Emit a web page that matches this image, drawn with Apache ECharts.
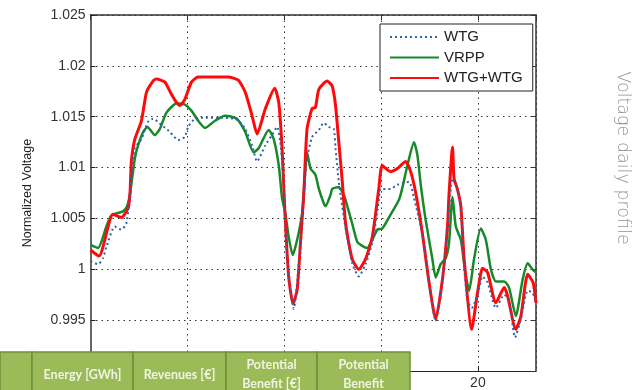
<!DOCTYPE html>
<html>
<head>
<meta charset="utf-8">
<script src="https://cdn.jsdelivr.net/npm/echarts@6/dist/echarts.min.js"></script>
<style>
html,body{margin:0;padding:0;background:#fff;}
#c{width:634px;height:390px;}
</style>
</head>
<body>
<div id="c"></div>
<script>
// ---- data (hour of day, normalized voltage) ----
const wtgHours = [0,0.39,0.65,0.82,1.25,1.59,1.85,2.03,2.11,2.29,2.63,2.97,3.23,3.66,4.10,4.53,4.87,5.04,5.39,5.91,6.77,7.46,7.65,7.99,8.34,8.60,9.03,9.37,9.63,9.80,9.97,10.06,10.23,10.49,10.84,11.01,11.18,11.44,11.79,12.04,12.30,12.56,12.65,12.82,13.17,13.51,13.85,14.20,14.55,14.89,14.98,15.49,15.84,16.44,16.70,17.13,17.48,17.82,18.17,18.43,18.69,18.94,19.12,19.29,19.46,19.68,19.98,20.24,20.50,20.93,21.36,21.61,21.92,22.22,22.57,22.82,23.0];
const wtgValues = [1.0008,1.0005,1.0011,1.0022,1.0042,1.0039,1.0045,1.0071,1.0093,1.0119,1.0128,1.0145,1.0148,1.0142,1.0135,1.0127,1.0130,1.0140,1.0148,1.0149,1.0149,1.0148,1.0146,1.0138,1.0122,1.0106,1.0122,1.0132,1.0140,1.0125,1.0086,1.0042,0.9993,0.9961,1.0026,1.0074,1.0109,1.0130,1.0137,1.0144,1.0140,1.0138,1.0119,1.0086,1.0040,1.0006,0.9993,1.0005,1.0026,1.0068,1.0079,1.0079,1.0083,1.0086,1.0070,1.0035,0.9986,0.9949,0.9990,1.0040,1.0089,1.0079,1.0060,1.0003,0.9970,0.9962,0.9974,0.9993,0.9987,0.9962,0.9975,0.9970,0.9933,0.9951,0.9979,0.9977,0.9967];

const vrppHours = [0,0.39,0.82,1.08,1.68,1.89,2.03,2.29,2.46,2.72,2.94,3.32,3.58,3.92,4.44,4.87,5.21,5.56,5.91,6.43,6.94,7.46,7.65,7.99,8.42,8.68,9.20,9.46,9.72,9.89,10.06,10.23,10.44,10.67,10.93,11.01,11.18,11.36,11.61,11.79,12.04,12.13,12.39,12.48,12.82,13.08,13.17,13.51,13.77,14.03,14.29,14.55,14.81,15.06,15.44,15.96,16.36,16.70,16.88,17.05,17.30,17.65,17.82,18.08,18.34,18.51,18.69,18.86,19.12,19.38,19.55,19.80,20.15,20.41,20.67,20.93,21.36,21.61,21.96,22.31,22.57,22.82,23.0];
const vrppValues = [1.0024,1.0021,1.0042,1.0053,1.0057,1.0062,1.0073,1.0109,1.0122,1.0135,1.0140,1.0132,1.0138,1.0154,1.0163,1.0162,1.0156,1.0146,1.0139,1.0146,1.0151,1.0149,1.0146,1.0135,1.0115,1.0119,1.0137,1.0128,1.0102,1.0070,1.0055,1.0032,1.0014,1.0029,1.0055,1.0074,1.0115,1.0099,1.0093,1.0079,1.0065,1.0062,1.0073,1.0079,1.0081,1.0073,1.0068,1.0045,1.0027,1.0023,1.0021,1.0029,1.0039,1.0040,1.0052,1.0070,1.0102,1.0125,1.0112,1.0083,1.0049,1.0010,0.9992,1.0005,1.0011,1.0026,1.0071,1.0042,1.0029,0.9993,0.9979,1.0010,1.0040,1.0029,1.0000,0.9988,0.9988,0.9982,0.9954,0.9990,1.0006,1.0000,0.9997];

const bothHours = [0,0.44,1.16,1.59,1.94,2.04,2.11,2.29,2.63,2.89,3.23,3.40,3.84,4.18,4.44,4.61,4.87,5.21,5.56,7.11,7.63,7.99,8.34,8.60,9.03,9.51,9.72,9.89,10.04,10.23,10.46,10.67,10.84,11.01,11.18,11.44,11.61,11.79,12.22,12.48,12.65,12.82,13.00,13.17,13.51,13.85,14.20,14.55,14.89,15.06,15.49,15.84,16.27,16.53,16.78,17.13,17.48,17.82,18.17,18.43,18.51,18.69,18.77,18.94,19.12,19.29,19.68,19.98,20.24,20.50,20.93,21.36,21.53,21.96,22.22,22.57,22.85,23.0];
const bothValues = [1.0019,1.0013,1.0054,1.0051,1.0060,1.0075,1.0106,1.0128,1.0146,1.0174,1.0185,1.0187,1.0184,1.0172,1.0164,1.0161,1.0167,1.0184,1.0189,1.0189,1.0186,1.0174,1.0151,1.0133,1.0158,1.0178,1.0164,1.0119,1.0055,0.9993,0.9966,0.9980,1.0026,1.0074,1.0138,1.0158,1.0159,1.0177,1.0185,1.0180,1.0161,1.0125,1.0086,1.0045,1.0010,1.0000,1.0010,1.0032,1.0080,1.0102,1.0096,1.0099,1.0106,1.0096,1.0076,1.0036,0.9987,0.9951,0.9990,1.0042,1.0074,1.0120,1.0089,1.0079,1.0062,1.0010,0.9941,0.9977,1.0001,0.9997,0.9967,0.9982,0.9974,0.9941,0.9954,0.9995,0.9987,0.9967];

const seriesNames = ['WTG', 'VRPP', 'WTG+WTG'];
const yAxisTitle = 'Normalized Voltage';
const sideTitle = 'Voltage daily profile';
const tableHeaders = [[''], ['Energy [GWh]'], ['Revenues [€]'], ['Potential', 'Benefit [€]'], ['Potential', 'Benefit']];

// ---- chart ----
const pairs = (h, v) => h.map((x, i) => [x, v[i]]);
const chart = echarts.init(document.getElementById('c'), null, {renderer: 'canvas'});

const cellEdges = [0, 32, 133, 226, 317, 410];
const tableTop = 352;
const graphics = [];
for (let i = 0; i < tableHeaders.length; i++) {
  const x0 = cellEdges[i], x1 = cellEdges[i + 1];
  graphics.push({
    type: 'rect', z: 100,
    shape: {x: x0, y: tableTop, width: x1 - x0, height: 45},
    style: {fill: '#9bbb59', stroke: '#728f39', lineWidth: 1.5}
  });
  const lines = tableHeaders[i];
  lines.forEach((t, k) => {
    if (!t) return;
    const cy = lines.length === 1 ? 375 : (k === 0 ? 365 : 383.5);
    graphics.push({
      type: 'text', z: 101,
      x: (x0 + x1) / 2, y: cy,
      style: {text: t, fill: '#f1f4e2', font: 'bold 12.5px Lato, "Open Sans", sans-serif', textAlign: 'center', textVerticalAlign: 'middle'}
    });
  });
}
graphics.push({
  type: 'text', z: 100,
  x: 623, y: 158, rotation: -Math.PI / 2,
  style: {text: sideTitle, fill: '#939393', font: '300 17.5px "DejaVu Sans", sans-serif', textAlign: 'center', textVerticalAlign: 'middle'}
});

const axisFont = {fontFamily: '"Liberation Sans", Arial, sans-serif', fontSize: 14, color: '#333'};
const gridLine = {show: true, lineStyle: {type: [1.5, 4], color: '#333', width: 1}};

chart.setOption({
  animation: false,
  backgroundColor: '#fff',
  grid: {left: 90.5, right: 98, top: 15, bottom: 18, containLabel: false},
  legend: {
    data: seriesNames,
    orient: 'vertical',
    left: 380, top: 24,
    itemWidth: 49, itemHeight: 14, itemGap: 5.5,
    padding: [5.5, 10, 5.5, 9],
    backgroundColor: '#fff',
    borderColor: '#222', borderWidth: 1,
    itemStyle: {opacity: 0},
    textStyle: {fontFamily: '"Liberation Sans", Arial, sans-serif', fontSize: 15, color: '#222'}
  },
  xAxis: [{
    type: 'value', min: 0, max: 23, interval: 5,
    axisLine: {show: true, onZero: false, lineStyle: {color: '#222', width: 1}},
    axisTick: {show: true, inside: true, length: 5, lineStyle: {color: '#222'}},
    axisLabel: Object.assign({margin: 5, showMaxLabel: false}, axisFont),
    splitLine: gridLine
  }, {
    type: 'value', min: 0, max: 23, interval: 5, position: 'top',
    axisLine: {show: true, onZero: false, lineStyle: {color: '#333', width: 1.5}},
    axisTick: {show: true, inside: true, length: 5, lineStyle: {color: '#333'}},
    axisLabel: {show: false}, splitLine: {show: false}
  }],
  yAxis: [{
    type: 'value', min: 0.99, max: 1.025, interval: 0.005,
    name: yAxisTitle, nameLocation: 'middle', nameGap: 56,
    nameTextStyle: {fontFamily: '"Liberation Sans", Arial, sans-serif', fontSize: 12.5, color: '#222'},
    axisLine: {show: true, onZero: false, lineStyle: {color: '#666', width: 2}},
    axisTick: {show: true, inside: true, length: 5, lineStyle: {color: '#222'}},
    axisLabel: Object.assign({margin: 5, formatter: v => String(parseFloat(v.toFixed(3)))}, axisFont),
    splitLine: gridLine
  }, {
    type: 'value', min: 0.99, max: 1.025, interval: 0.005, position: 'right',
    axisLine: {show: true, onZero: false, lineStyle: {color: '#333', width: 1.5}},
    axisTick: {show: true, inside: true, length: 5, lineStyle: {color: '#333'}},
    axisLabel: {show: false}, splitLine: {show: false}
  }],
  graphic: graphics,
  series: [{
    name: seriesNames[0], type: 'line', z: 4,
    data: pairs(wtgHours, wtgValues),
    showSymbol: false, symbol: 'none', smooth: 0.2,
    lineStyle: {color: '#2a64ad', width: 2, type: [2, 3]},
    itemStyle: {color: '#2a64ad'}
  }, {
    name: seriesNames[1], type: 'line', z: 2,
    data: pairs(vrppHours, vrppValues),
    showSymbol: false, symbol: 'none', smooth: 0.2,
    lineStyle: {color: '#17892a', width: 2.5},
    itemStyle: {color: '#17892a'}
  }, {
    name: seriesNames[2], type: 'line', z: 3,
    data: pairs(bothHours, bothValues),
    showSymbol: false, symbol: 'none', smooth: 0.2,
    lineStyle: {color: '#ff0a0a', width: 3},
    itemStyle: {color: '#ff0a0a'}
  }]
});
</script>
</body>
</html>
